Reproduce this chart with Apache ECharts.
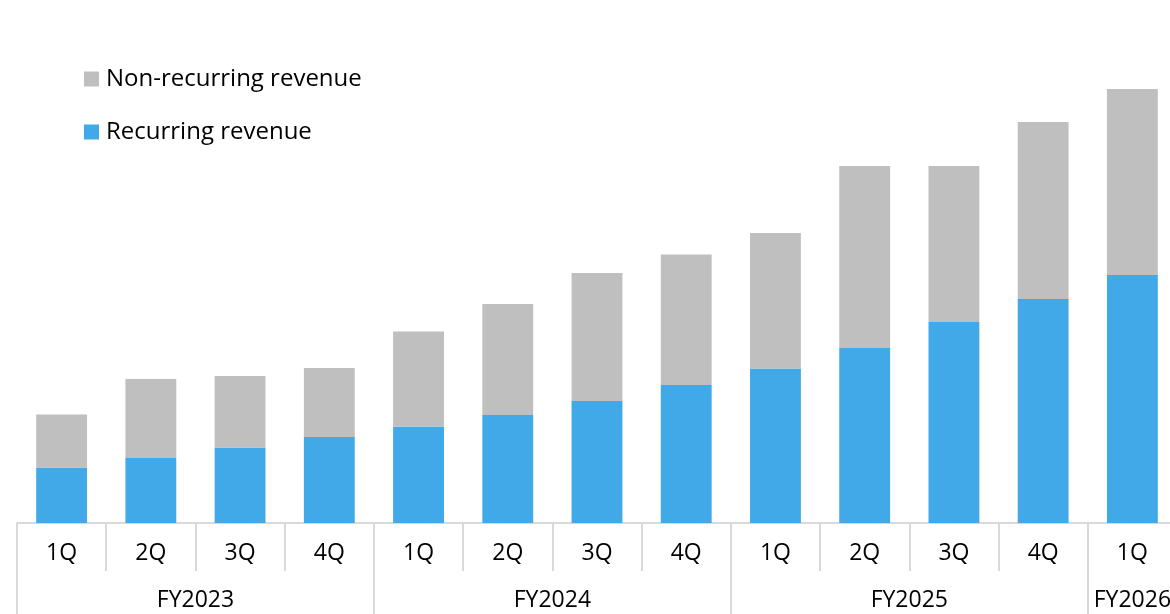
<!DOCTYPE html>
<html>
<head>
<meta charset="utf-8">
<script src="https://cdn.jsdelivr.net/npm/echarts@6/dist/echarts.min.js"></script>
<style>
  html, body { margin: 0; padding: 0; background: #ffffff; }
  #chart { width: 1170px; height: 614px; }
</style>
</head>
<body>
<div id="chart"></div>
<script>
// Quarterly revenue split, FY2023 1Q through FY2026 1Q
const quarters = ['1Q', '2Q', '3Q', '4Q', '1Q', '2Q', '3Q', '4Q', '1Q', '2Q', '3Q', '4Q', '1Q'];
const fiscalYears = ['FY2023', 'FY2023', 'FY2023', 'FY2023', 'FY2024', 'FY2024', 'FY2024', 'FY2024',
                     'FY2025', 'FY2025', 'FY2025', 'FY2025', 'FY2026'];
const recurring = [11.1, 13.0, 15.1, 17.2, 19.3, 21.6, 24.4, 27.6, 30.9, 35.0, 40.2, 44.8, 49.6];
const nonRecurring = [10.6, 15.8, 14.3, 13.8, 19.0, 22.2, 25.6, 26.1, 27.1, 36.4, 31.2, 35.4, 37.2];

// Group consecutive quarters by fiscal year: boundaries and centre positions
const groups = [];
fiscalYears.forEach((fy, i) => {
  const last = groups[groups.length - 1];
  if (last && last.name === fy) { last.end = i + 1; }
  else { groups.push({ name: fy, start: i, end: i + 1 }); }
});
const groupBounds = groups.map(g => g.start).concat([quarters.length]);
const groupCentres = groups.map(g => (g.start + g.end) / 2);

const FONT = 'Open Sans';
const LINE = '#d9d9d9';

const chart = echarts.init(document.getElementById('chart'), null, { renderer: 'canvas' });
chart.setOption({
  animation: false,
  backgroundColor: '#ffffff',
  textStyle: { fontFamily: FONT },
  // the last quarter runs slightly past the right edge of the canvas
  grid: { left: 17, width: 1160, top: 23, bottom: 91, containLabel: false, outerBoundsMode: 'none' },
  legend: {
    orient: 'vertical',
    left: 84,
    top: 67,
    padding: 0,
    icon: 'rect',
    itemWidth: 15,
    itemHeight: 15,
    itemGap: 29,
    textStyle: { fontFamily: FONT, fontSize: 24, color: '#000000', padding: [0, 0, 0, 2] },
    data: ['Non-recurring revenue', 'Recurring revenue']
  },
  xAxis: [
    {
      type: 'category',
      data: quarters,
      boundaryGap: true,
      axisLine: { show: true, lineStyle: { color: LINE, width: 2 } },
      axisTick: { show: true, interval: 0, length: 48, lineStyle: { color: LINE, width: 2 } },
      axisLabel: { interval: 0, margin: 19, fontFamily: FONT, fontSize: 23, color: '#000000' },
      splitLine: { show: false }
    },
    {
      type: 'value',
      min: 0,
      max: quarters.length,
      position: 'bottom',
      axisLine: { show: false },
      splitLine: { show: false },
      axisTick: {
        show: true,
        customValues: groupBounds,
        length: 91,
        lineStyle: { color: LINE, width: 2 }
      },
      axisLabel: {
        customValues: groupCentres,
        margin: 66,
        fontFamily: FONT,
        fontSize: 23,
        color: '#000000',
        formatter: function (v) {
          const g = groups.find(gr => Math.abs((gr.start + gr.end) / 2 - v) < 1e-6);
          return g ? g.name : '';
        }
      }
    }
  ],
  yAxis: { type: 'value', min: 0, max: 100, show: false },
  series: [
    {
      name: 'Recurring revenue',
      type: 'bar',
      stack: 'revenue',
      xAxisIndex: 0,
      barCategoryGap: '43%',
      itemStyle: { color: '#41A9E8' },
      data: recurring
    },
    {
      name: 'Non-recurring revenue',
      type: 'bar',
      stack: 'revenue',
      xAxisIndex: 0,
      barCategoryGap: '43%',
      itemStyle: { color: '#BFBFBF' },
      data: nonRecurring
    }
  ]
});
</script>
</body>
</html>
